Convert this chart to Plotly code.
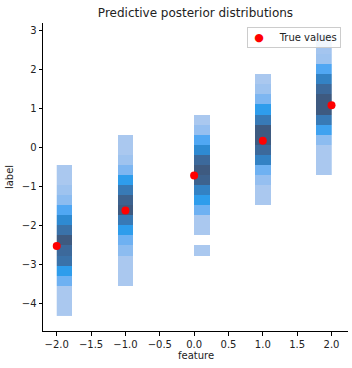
import plotly.graph_objects as go

# ---- data ----
features = [-2, -1, 0, 1, 2]
true_values = [-2.52, -1.61, -0.71, 0.18, 1.09]
legend_label = "True values"

# histogram bin edges
x_bin_start, x_bin_count, x_bin_end = -2.0, 18, 2.0
y_bin_start, y_bin_count, y_bin_width = -4.31, 28, 0.2582

# per column: x bin index, first y bin index, bin levels (bottom -> top)
col_x_bin = [0, 4, 9, 13, 17]
col_y_start = [0, 3, 6, 11, 14]
col1 = [1, 1, 1, 4, 6, 8.5, 9, 10, 8.5, 7, 5, 3, 2, 1, 1]
col2 = [1, 1, 1, 3, 4, 6, 8, 10, 9.5, 8, 6, 3.5, 2, 1, 1]
col3 = [1, None, 1, 1, 4, 6, 7.5, 9.5, 10, 9, 7, 5, 2.5, 1]
col4 = [1, 1, 2.5, 4, 7.5, 9, 10, 10, 8, 6, 3.5, 2, 1]
col5 = [1, 1, 1, 3, 5.5, 8, 10, 10, 9, 7.5, 5, 2, 1.5, 1]
columns = [col1, col2, col3, col4, col5]

x_ticks = [-2.0, -1.5, -1.0, -0.5, 0.0, 0.5, 1.0, 1.5, 2.0]
y_ticks = [-4, -3, -2, -1, 0, 1, 2, 3]

# ---- build grid ----
xw = (x_bin_end - x_bin_start) / x_bin_count
x_edges = [x_bin_start + i * xw for i in range(x_bin_count + 1)]
y_edges = [y_bin_start + i * y_bin_width for i in range(y_bin_count + 1)]
z = [[None] * x_bin_count for _ in range(y_bin_count)]
for xi, ys, vals in zip(col_x_bin, col_y_start, columns):
    for k, v in enumerate(vals):
        z[ys + k][xi] = v

cscale = [
    [0.000, "rgb(170,200,239)"],
    [0.111, "rgb(158,195,239)"],
    [0.222, "rgb(140,188,240)"],
    [0.333, "rgb(110,177,242)"],
    [0.444, "rgb(80,167,243)"],
    [0.556, "rgb(46,157,236)"],
    [0.667, "rgb(46,138,210)"],
    [0.778, "rgb(56,122,182)"],
    [0.889, "rgb(60,105,155)"],
    [1.000, "rgb(62,90,128)"],
]

FONT = "DejaVu Sans"
TXT = "#222222"

fig = go.Figure()
fig.add_trace(go.Heatmap(
    x=x_edges, y=y_edges, z=z, colorscale=cscale, zmin=1, zmax=10,
    showscale=False, hoverinfo="skip", showlegend=False,
))
fig.add_trace(go.Scatter(
    x=features, y=true_values, mode="markers", name=legend_label,
    marker=dict(color="#ff0000", size=8), showlegend=False,
))

fig.update_layout(
    width=352, height=368,
    margin=dict(l=43, r=4, t=23, b=37),
    paper_bgcolor="white", plot_bgcolor="white",
    font=dict(family=FONT, size=10, color=TXT),
    title=dict(text="Predictive posterior distributions", x=0.5, xref="paper",
               y=1 - 13 / 368, yref="container", yanchor="middle",
               font=dict(size=12, color=TXT)),
    showlegend=False,
    annotations=[
        dict(text="feature", x=0.5, xref="paper", y=(331 - 355) / 308, yref="paper",
             showarrow=False, xanchor="center", yanchor="middle",
             font=dict(size=10, color=TXT)),
        dict(text='&nbsp;<span style="color:#ff0000;font-size:11px">●</span>'
                  '&nbsp;&nbsp;&nbsp;&nbsp;&nbsp;' + legend_label,
             x=(341 - 43) / 305, xref="paper", y=(331 - 27) / 308, yref="paper",
             xanchor="right", yanchor="top", showarrow=False,
             bgcolor="rgba(255,255,255,0.85)", bordercolor="#cccccc",
             borderwidth=1, borderpad=3, font=dict(size=10, color=TXT)),
    ],
)
fig.update_xaxes(
    range=[-2.2, 2.24], tickvals=x_ticks, tickformat=".1f",
    showline=True, linecolor="#000000", linewidth=1, ticks="outside",
    ticklen=3.5, tickwidth=1, tickcolor="#000000", showgrid=False,
    zeroline=False, mirror=False, tickfont=dict(size=10, color=TXT),
)
fig.update_yaxes(
    range=[-4.70, 3.20], tickvals=y_ticks,
    showline=True, linecolor="#000000", linewidth=1, ticks="outside",
    ticklen=3.5, tickwidth=1, tickcolor="#000000", showgrid=False,
    zeroline=False, mirror=False, tickfont=dict(size=10, color=TXT),
    title=dict(text="label", font=dict(size=10, color=TXT), standoff=6),
)
fig.write_html("out.html")
